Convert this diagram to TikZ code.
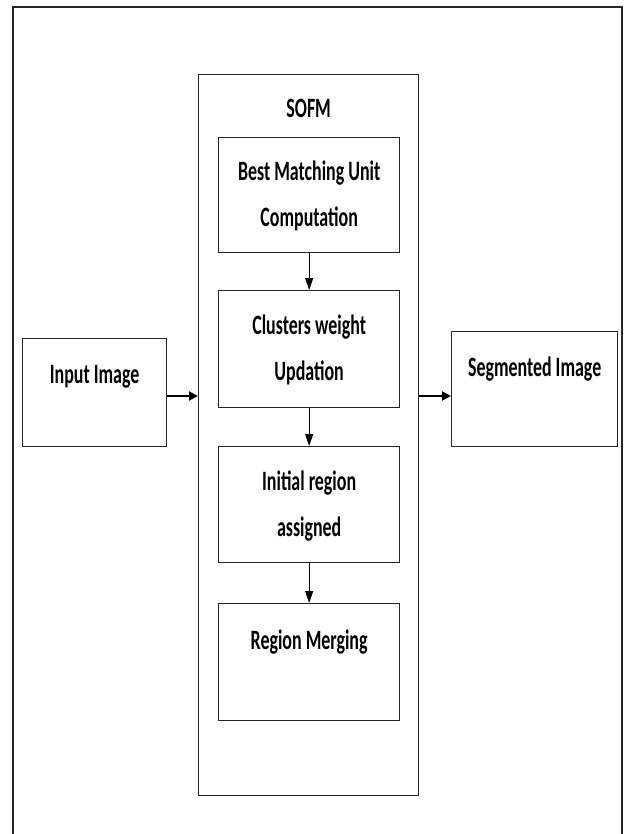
\documentclass[tikz,border=0pt]{standalone}
\usepackage{fontspec}
\setmainfont{Carlito}[FakeStretch=0.64]
\usetikzlibrary{arrows.meta}
\begin{document}
\begin{tikzpicture}[x=1pt,y=-1pt,
  box/.style={draw=black!85, line width=1.3pt, anchor=north west, inner sep=0pt, fill=white},
  lbl/.style={anchor=north, align=center, inner sep=0pt, font=\fontsize{28}{46}\selectfont\bfseries},
  varrow/.style={draw=black, line width=1.2pt, -{Triangle[width=8pt,length=12pt]}},
  harrow/.style={draw=black, line width=2pt, -{Triangle[width=9pt,length=9pt]}}]
\useasboundingbox (0,0) rectangle (630,834);
\fill[white] (0,0) rectangle (630,834);
\coordinate (ob) at (13,840);
\coordinate (ot) at (622,840);
\draw[black!85, line width=1.5pt] (ob) -- (13,7) -- (622,7) -- (ot);
\node[box, minimum width=220, minimum height=721,
  label={[lbl, yshift=-25pt]north:SOFM}] (sofm) at (198,74) {};
\node[box, minimum width=181, minimum height=115,
  label={[lbl, yshift=-24pt]north:Best Matching Unit\\Computation}] (bmu) at (218,137) {};
\node[box, minimum width=181, minimum height=117,
  label={[lbl, yshift=-25pt]north:Clusters weight\\Updation}] (clu) at (218,290) {};
\node[box, minimum width=181, minimum height=116,
  label={[lbl, yshift=-25pt]north:Initial region\\assigned}] (ini) at (218,446) {};
\node[box, minimum width=181, minimum height=117,
  label={[lbl, yshift=-27pt]north:Region Merging}] (mer) at (218,603) {};
\node[box, minimum width=144, minimum height=108,
  label={[lbl, yshift=-27pt]north:Input Image}] (inp) at (22,338) {};
\node[box, minimum width=166, minimum height=115,
  label={[lbl, yshift=-26pt]north:Segmented Image}] (seg) at (451,331) {};
\draw[varrow] (bmu.south) -- (clu.north);
\draw[varrow] (clu.south) -- (ini.north);
\draw[varrow] (ini.south) -- (mer.north);
\coordinate (ay) at (0,396);
\draw[harrow] (inp.east |- ay) -- (sofm.west |- ay);
\draw[harrow] (sofm.east |- ay) -- (seg.west |- ay);
\end{tikzpicture}
\end{document}
